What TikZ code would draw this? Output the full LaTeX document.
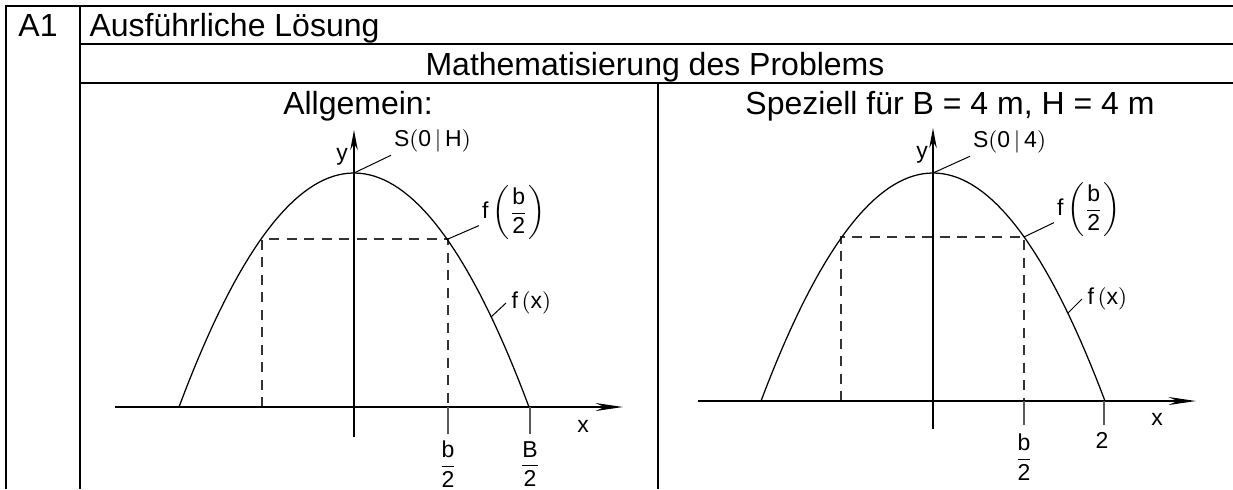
\documentclass[tikz,border=0pt]{standalone}
\usepackage{fontspec}
\setmainfont{Liberation Sans}
\usepackage{amsmath}
\usetikzlibrary{arrows.meta,positioning}

\tikzset{
  hdr/.style={font=\fontsize{12.8}{15}\selectfont, inner sep=0pt},
  lbl/.style={font=\fontsize{9.2}{11}\selectfont, inner sep=1pt},
  frame/.style={line width=1pt},
  axis/.style={line width=0.7pt},
  curve/.style={line width=0.5pt},
  help/.style={line width=0.5pt, dash pattern=on 4pt off 3pt, black!80},
  tickline/.style={line width=0.6pt, black!65},
  leader/.style={line width=0.4pt},
}
\newcommand{\halb}[1]{\ensuremath{\displaystyle\frac{\mbox{#1}}{\mbox{2}}}}

\begin{document}
\begin{tikzpicture}[x=0.4pt, y=-0.4pt]
  \useasboundingbox (0,0) rectangle (1233,489);

  %% Table frame
  \draw[frame] (1233,6) -- (6,6) -- (6,489);
  \draw[frame] (80,6) -- (80,489);
  \draw[frame] (80,44) -- (1233,44);
  \draw[frame] (80,83) -- (1233,83);
  \draw[frame] (658,83) -- (658,489);

  %% Headings
  \node[hdr, anchor=base west] (nr) at (18,36) {A1};
  \node[hdr, anchor=base west] (title) at (89,36) {Ausführliche Lösung};
  \node[hdr, anchor=base] (mathe) at (655,75) {Mathematisierung des Problems};
  \node[hdr, anchor=base] (allg) at (358,114) {Allgemein:};
  \node[hdr, anchor=base] (spez) at (950,114) {Speziell für B = 4 m, H = 4 m};

  %% Left: general case
  \draw[help] (262,407) -- (262,239) -- (448,239) -- (448,407) -- cycle;
  \draw[axis, -{Stealth[length=11pt,width=3.2pt]}] (115,407) -- (623,407);
  \draw[axis, -{Stealth[length=8pt,width=3pt]}] (354,437) -- (354,130);
  \draw[curve] plot[domain=-175:175, samples=71] ({354+\x},{173+234*(\x/175)^2});
  \draw[tickline] (448,407) -- (448,434);
  \draw[tickline] (530,407) -- (530,434);
  \coordinate (topL) at (354,173);
  \coordinate (ecL) at (448,239);
  \coordinate (onL) at (491,317);
  \node[lbl] (xL) at (583,426) {x};
  \node[lbl] (yL) at (342,157) {y};
  \node[lbl] (bL) at (448,464) {\halb{b}};
  \node[lbl] (BL) at (530,464) {\halb{B}};
  \node[lbl, anchor=west] (sL) at (391,141) {S$($0\,$|$\,H$)$};
  \node[lbl, anchor=west] (fbL) at (479,213) {f$\,\left(\halb{b}\right)$};
  \node[lbl, anchor=west, inner sep=2pt] (fxL) at (506,303) {f\,$($x$)$};
  \draw[leader] (topL) -- (sL.south west);
  \draw[leader] (ecL) -- (fbL.200);
  \draw[leader] (onL) -- (fxL.west);

  %% Right: B = 4, H = 4
  \draw[help] (841,401) -- (841,237) -- (1024,237) -- (1024,401) -- cycle;
  \draw[axis, -{Stealth[length=11pt,width=3.2pt]}] (698,401) -- (1196,401);
  \draw[axis, -{Stealth[length=8pt,width=3pt]}] (933,429) -- (933,128);
  \draw[curve] plot[domain=-172:172, samples=71] ({933+\x},{173+228*(\x/172)^2});
  \draw[tickline] (1024,401) -- (1024,425);
  \draw[tickline] (1104,401) -- (1104,425);
  \coordinate (topR) at (933,173);
  \coordinate (ecR) at (1024,237);
  \coordinate (onR) at (1068,313);
  \node[lbl] (xR) at (1157,419) {x};
  \node[lbl] (yR) at (922,155) {y};
  \node[lbl] (bR) at (1024,457) {\halb{b}};
  \node[lbl] (zwei) at (1102,440) {2};
  \node[lbl, anchor=west] (sR) at (970,142) {S$($0\,$|$\,4$)$};
  \node[lbl, anchor=west] (fbR) at (1054,210) {f$\,\left(\halb{b}\right)$};
  \node[lbl, anchor=west, inner sep=2pt] (fxR) at (1082,299) {f\,$($x$)$};
  \draw[leader] (topR) -- (sR.south west);
  \draw[leader] (ecR) -- (fbR.200);
  \draw[leader] (onR) -- (fxR.west);
\end{tikzpicture}
\end{document}
